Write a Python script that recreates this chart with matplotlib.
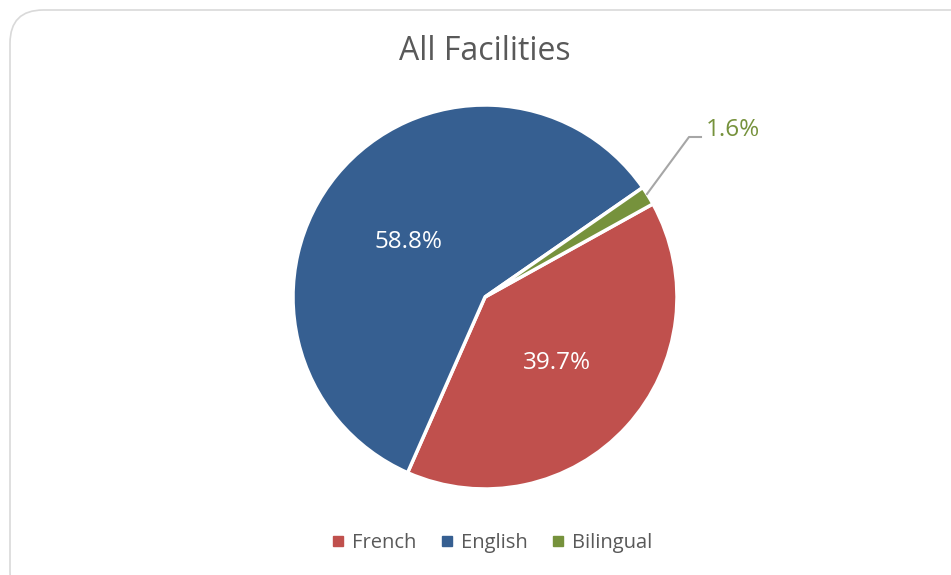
import matplotlib
matplotlib.use("Agg")
import matplotlib.pyplot as plt
from matplotlib.patches import FancyBboxPatch
from matplotlib.lines import Line2D

categories = ["French", "English", "Bilingual"]
values = [39.7, 58.8, 1.6]
labels = ["39.7%", "58.8%", "1.6%"]
colors = ["#C0504D", "#365F91", "#76923C"]

plt.rcParams['font.family'] = ['Open Sans', 'DejaVu Sans']
W, H = 951, 575
fig = plt.figure(figsize=(W/100, H/100), dpi=100)
fig.patch.set_facecolor("white")

# frame
frame = FancyBboxPatch((10/W, -30/H), (W+30)/W, (H+20)/H, boxstyle="round,pad=0,rounding_size=0.035",
                       transform=fig.transFigure, facecolor="none", edgecolor="#D9D9D9", linewidth=1.2,
                       mutation_aspect=W/H, zorder=-1)
fig.patches.append(frame)

ax = fig.add_axes([0, 0, 1, 1])
ax.patch.set_alpha(0)
cx, cy, r = 485, H - 297, 192
wedges, _ = ax.pie(values, colors=colors, startangle=29, counterclock=False,
                   center=(cx, cy), radius=r, explode=[0, 0, 0.02],
                   wedgeprops=dict(edgecolor="white", linewidth=2.5), frame=True)
ax.set_xlim(0, W)
ax.set_ylim(0, H)
ax.set_aspect('equal')
ax.axis('off')

ax.text(409, H - 242, labels[1], color="white", fontsize=17.5, ha="center", va="center")
ax.text(557, H - 363, labels[0], color="white", fontsize=17.5, ha="center", va="center")
ax.plot([647, 689, 701], [H - 194, H - 137, H - 137], color="#A6A6A6", linewidth=1.5)
ax.text(706, H - 130, labels[2], color="#76923C", fontsize=17.5, ha="left", va="center")

ax.text(485, H - 51, "All Facilities", color="#595959", fontsize=23, ha="center", va="center")

handles = [Line2D([0], [0], marker='s', linestyle='none', markersize=6.5, markerfacecolor=c,
                  markeredgecolor=c) for c in colors]
fig.legend(handles, categories, loc="center", bbox_to_anchor=(490/W, 1 - 543/H), ncol=3,
           frameon=False, fontsize=14.5, labelcolor="#595959", handletextpad=0.2, columnspacing=1.0,
           handlelength=1.0)

fig.savefig("out.png", dpi=100, facecolor="white")
